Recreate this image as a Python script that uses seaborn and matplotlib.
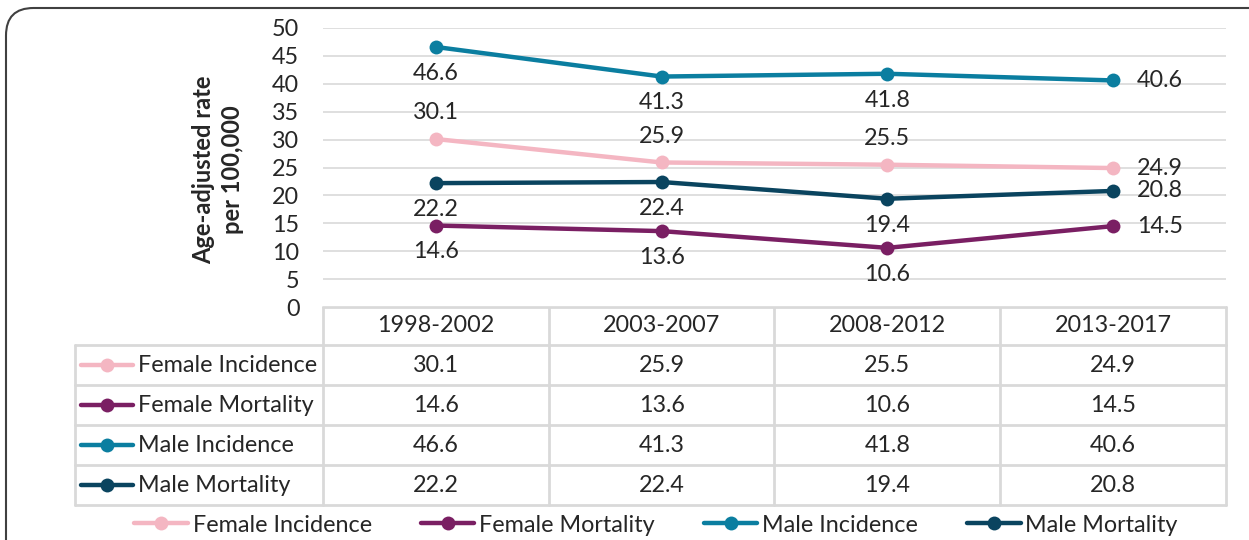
import pandas as pd
import matplotlib.pyplot as plt
import seaborn as sns
from matplotlib.patches import FancyBboxPatch
from matplotlib.lines import Line2D

# data
periods = ['1998-2002', '2003-2007', '2008-2012', '2013-2017']
series_names = ['Female Incidence', 'Female Mortality', 'Male Incidence', 'Male Mortality']
female_incidence = [30.1, 25.9, 25.5, 24.9]
female_mortality = [14.6, 13.6, 10.6, 14.5]
male_incidence = [46.6, 41.3, 41.8, 40.6]
male_mortality = [22.2, 22.4, 19.4, 20.8]
colors = ['#F4B6C2', '#7A1F63', '#0B7EA0', '#0A445F']
label_side = ['above', 'below', 'below', 'below']

values = [female_incidence, female_mortality, male_incidence, male_mortality]
rows = []
for name, vals in zip(series_names, values):
    for i, v in enumerate(vals):
        rows.append({'period': i, 'series': name, 'rate': v})
df = pd.DataFrame(rows)

sns.set_theme(style='white')
plt.rcParams['font.family'] = ['Lato', 'DejaVu Sans']
text_col = '#262626'
grid_col = '#D9D9D9'
fs = 16.8

W, H = 1249, 540
fig = plt.figure(figsize=(W / 100, H / 100), dpi=100)

# rounded chart border
border = FancyBboxPatch((6 / W, -0.2), 1.3, 0.2 + (H - 8) / H,
                        boxstyle='round,pad=0,rounding_size=0.022',
                        transform=fig.transFigure, fill=False,
                        edgecolor='#404040', linewidth=1.5, mutation_aspect=W / H)
fig.patches.append(border)

# plot area
x0, x1, ytop, ybot = 323, 1226, 28, 307
ax = fig.add_axes([x0 / W, (H - ybot) / H, (x1 - x0) / W, (ybot - ytop) / H])
sns.lineplot(data=df, x='period', y='rate', hue='series', hue_order=series_names,
             palette=colors, marker='o', markersize=10, markeredgewidth=0,
             linewidth=3.2, ax=ax, legend=False)
ax.set_xlim(-0.5, 3.5)
ax.set_ylim(0, 50)
ax.set_yticks(range(0, 51, 5))
ax.set_xticks([])
ax.set_xlabel('')
ax.set_ylabel('')
ax.tick_params(axis='y', length=0, pad=17, labelsize=fs, labelcolor=text_col)
ax.grid(axis='y', color=grid_col, linewidth=1.2)
ax.set_axisbelow(True)
for s in ax.spines.values():
    s.set_visible(False)

# data labels
for vals, side in zip(values, label_side):
    for i, v in enumerate(vals):
        if i == len(vals) - 1:
            ax.annotate(f'{v}', (i, v), xytext=(17, 0), textcoords='offset points',
                        ha='left', va='center', fontsize=fs, color=text_col)
        else:
            dy = 19 if side == 'above' else -19
            ax.annotate(f'{v}', (i, v), xytext=(0, dy), textcoords='offset points',
                        ha='center', va='center', fontsize=fs, color=text_col)

fig.text(218 / W, (H - 170) / H, 'Age-adjusted rate\nper 100,000', rotation=90,
         ha='center', va='center', fontsize=17, fontweight='bold', color=text_col,
         linespacing=1.3)

# data table
tx = fig.add_axes([0, 0, 1, 1], zorder=-1)
tx.set_xlim(0, W)
tx.set_ylim(H, 0)
tx.axis('off')
col_edges = [x0 + (x1 - x0) * k / 4 for k in range(5)]
row_edges = [345, 385, 425, 465, 505]
lw_t = 2
tx.plot([x0, x1], [ybot, ybot], color=grid_col, lw=lw_t)
for ry in row_edges:
    tx.plot([75, x1], [ry, ry], color=grid_col, lw=lw_t)
for cx in col_edges:
    tx.plot([cx, cx], [ybot, row_edges[-1]], color=grid_col, lw=lw_t)
tx.plot([75, 75], [row_edges[0], row_edges[-1]], color=grid_col, lw=lw_t)
for k, p in enumerate(periods):
    tx.text((col_edges[k] + col_edges[k + 1]) / 2, (ybot + row_edges[0]) / 2, p,
            ha='center', va='center', fontsize=fs, color=text_col)
for r, (name, vals, c) in enumerate(zip(series_names, values, colors)):
    cy = (row_edges[r] + row_edges[r + 1]) / 2
    tx.plot([81, 133], [cy, cy], color=c, lw=3.2, solid_capstyle='round')
    tx.plot([107], [cy], 'o', color=c, markersize=10, markeredgewidth=0)
    tx.text(138, cy, name, ha='left', va='center', fontsize=fs, color=text_col)
    for k, v in enumerate(vals):
        tx.text((col_edges[k] + col_edges[k + 1]) / 2, cy, f'{v}',
                ha='center', va='center', fontsize=fs, color=text_col)

# legend
handles = [Line2D([0], [0], color=c, lw=3.2, marker='o', markersize=10,
                  markeredgewidth=0, solid_capstyle='round') for c in colors]
fig.legend(handles, series_names, loc='center', bbox_to_anchor=(656 / W, (H - 525) / H),
           ncol=4, frameon=False, fontsize=fs, handlelength=2.3, handletextpad=0.2,
           columnspacing=2.1, labelcolor=text_col)

fig.savefig('out.png', dpi=100)
